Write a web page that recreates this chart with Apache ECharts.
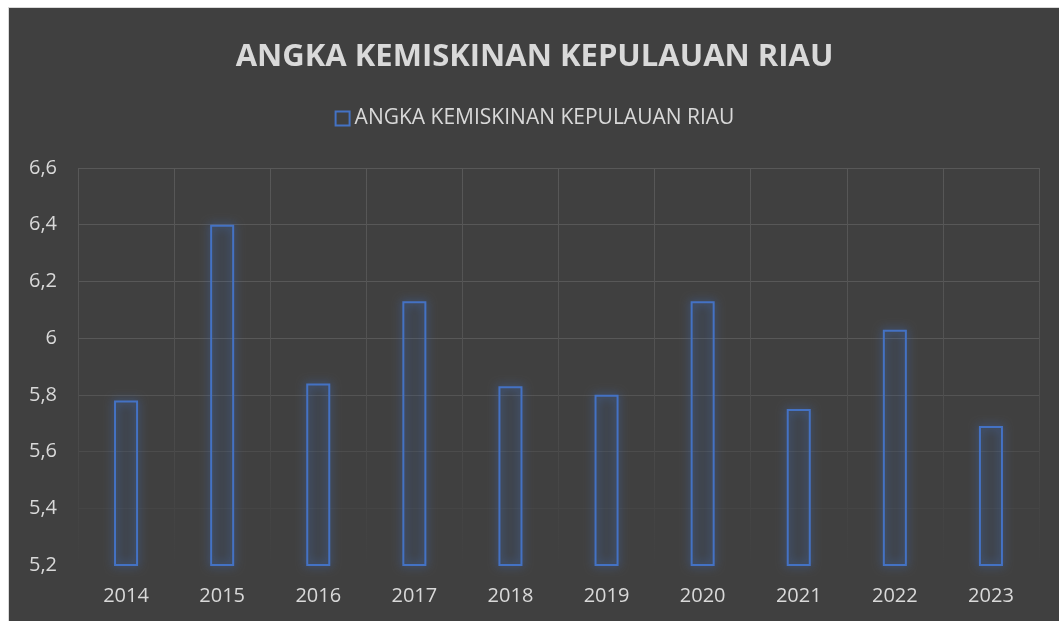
<!DOCTYPE html>
<html>
<head>
<meta charset="utf-8">
<title>Angka Kemiskinan Kepulauan Riau</title>
<script src="https://cdn.jsdelivr.net/npm/echarts@6/dist/echarts.min.js"></script>
<style>
  html, body { margin: 0; padding: 0; background: #ffffff; }
  .wrap {
    position: absolute; left: 8px; top: 7px;
    width: 1051px; height: 614px;
    border-left: 1px solid #d9d9d9; border-top: 1px solid #d9d9d9;
  }
  #chart { width: 100%; height: 100%; }
</style>
</head>
<body>
<div class="wrap"><div id="chart"></div></div>
<script>
  // data
  const years = ['2014', '2015', '2016', '2017', '2018', '2019', '2020', '2021', '2022', '2023']
  const povertyRate = [5.78, 6.40, 5.84, 6.13, 5.83, 5.80, 6.13, 5.75, 6.03, 5.69]
  const seriesName = 'ANGKA KEMISKINAN KEPULAUAN RIAU'

  const textColor = '#d9d9d9'
  const gridColor = '#585858'
  const blue = '#4472c4'

  // 网格线底部渐隐
  const hLineColors = ['rgba(0,0,0,0)', '#454545', '#4c4c4c', '#545454', gridColor, gridColor, gridColor, gridColor]
  const vLineColor = new echarts.graphic.LinearGradient(0, 0, 0, 1, [
    { offset: 0, color: gridColor },
    { offset: 0.45, color: '#525252' },
    { offset: 0.8, color: '#464646' },
    { offset: 1, color: '#404040' }
  ])

  const chart = echarts.init(document.getElementById('chart'))
  chart.setOption({
    backgroundColor: '#404040',
    textStyle: { fontFamily: 'Open Sans' },
    title: {
      text: seriesName,
      left: 'center',
      top: 29,
      textStyle: { color: textColor, fontSize: 31, fontWeight: 'bold', fontFamily: 'Open Sans' }
    },
    legend: {
      top: 95,
      left: 'center',
      data: [{ name: seriesName, icon: 'rect' }],
      itemWidth: 14,
      itemHeight: 14,
      itemStyle: { color: 'transparent', borderColor: blue, borderWidth: 2 },
      textStyle: { color: textColor, fontSize: 21, padding: [0, 0, 0, 0] }
    },
    grid: { left: 69, right: 21, top: 160, bottom: 57 },
    xAxis: {
      type: 'category',
      data: years,
      axisLine: { show: false },
      axisTick: { show: false },
      axisLabel: { color: textColor, fontSize: 20, margin: 21 },
      splitLine: { show: true, lineStyle: { color: vLineColor, width: 1 } }
    },
    yAxis: {
      type: 'value',
      min: 5.2,
      max: 6.6,
      interval: 0.2,
      axisLine: { show: false },
      axisTick: { show: false },
      axisLabel: {
        color: textColor,
        fontSize: 20,
        margin: 21,
        formatter: v => String(Math.round(v * 10) / 10).replace('.', ',')
      },
      splitLine: { lineStyle: { color: hLineColors, width: 1 } }
    },
    series: [
      {
        name: seriesName,
        type: 'bar',
        data: povertyRate,
        barWidth: '25%',
        itemStyle: {
          color: 'rgba(68,114,196,0.05)',
          borderColor: blue,
          borderWidth: 2,
          shadowBlur: 10,
          shadowColor: 'rgba(68,114,196,0.95)'
        }
      }
    ],
    animation: false
  })
</script>
</body>
</html>
